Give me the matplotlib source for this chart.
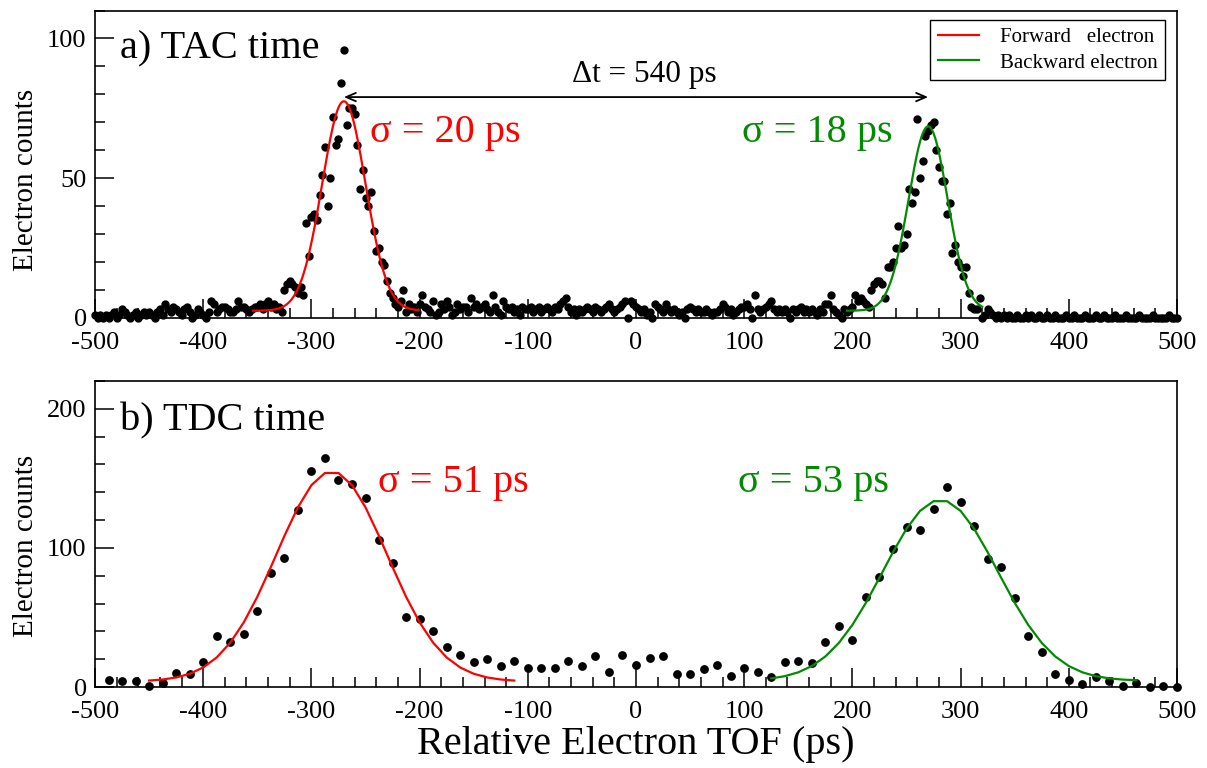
import numpy as np
import matplotlib
matplotlib.use("Agg")
import matplotlib.pyplot as plt
from matplotlib.lines import Line2D
from matplotlib.ticker import MultipleLocator

plt.rcParams['font.family'] = ['Liberation Serif', 'DejaVu Serif']
plt.rcParams['axes.unicode_minus'] = False

RED = '#ff0000'
GREEN = '#008b00'

# TAC spectrum: 2.5 ps bins from -500 to 500 ps (one row = 50 ps)
tac_time = np.arange(-500, 500.1, 2.5)
tac_counts = [
    1, 0, 1, 0, 1, 0, 1, 2, 0, 1, 3, 2, 1, 0, 1, 2, 0, 1, 2, 1,
    2, 1, 0, 2, 3, 1, 5, 3, 2, 4, 3, 2, 1, 3, 4, 2, 0, 1, 3, 2,
    1, 0, 2, 6, 5, 2, 3, 4, 4, 3, 2, 2, 3, 6, 4, 4, 3, 2, 3, 4,
    4, 5, 3, 5, 6, 4, 5, 3, 4, 2, 10, 12, 13, 12, 11, 9, 11, 8, 34, 22,
    36, 37, 35, 44, 51, 61, 40, 50, 72, 62, 64, 84, 96, 69, 75, 75, 73, 62, 46, 53,
    43, 40, 45, 31, 24, 25, 20, 19, 13, 9, 7, 5, 4, 6, 10, 2, 5, 3, 4, 2,
    5, 8, 4, 3, 2, 6, 1, 2, 5, 3, 6, 4, 1, 2, 5, 3, 4, 4, 2, 7,
    4, 5, 3, 4, 5, 3, 2, 8, 4, 2, 1, 6, 4, 3, 4, 2, 3, 1, 4, 3,
    3, 4, 2, 3, 4, 2, 3, 4, 3, 2, 4, 3, 5, 6, 7, 4, 2, 3, 1, 3,
    2, 3, 4, 3, 2, 4, 3, 2, 3, 4, 5, 3, 2, 3, 4, 5, 6, 0, 6, 5,
    4, 3, 2, 3, 1, 2, 0, 5, 4, 3, 2, 5, 3, 2, 3, 2, 1, 2, 0, 3,
    4, 3, 2, 3, 2, 2, 3, 2, 1, 2, 2, 3, 5, 4, 2, 3, 1, 2, 3, 4,
    4, 5, 3, 0, 8, 3, 2, 3, 4, 5, 6, 3, 2, 3, 2, 3, 2, 0, 3, 2,
    3, 4, 2, 3, 2, 3, 2, 1, 3, 2, 5, 5, 8, 3, 2, 1, 0, 3, 2, 3,
    4, 8, 6, 7, 6, 5, 4, 10, 12, 13, 13, 12, 7, 18, 18, 20, 25, 33, 25, 26,
    30, 46, 41, 45, 71, 50, 56, 65, 67, 69, 70, 60, 54, 49, 49, 37, 41, 23, 26, 20,
    18, 15, 18, 9, 4, 3, 3, 7, 0, 1, 3, 2, 1, 0, 1, 0, 1, 0, 1, 0,
    0, 1, 0, 0, 1, 0, 1, 0, 0, 1, 0, 0, 1, 0, 0, 1, 0, 0, 0, 1,
    0, 0, 1, 0, 0, 0, 1, 0, 0, 0, 1, 0, 0, 1, 0, 0, 0, 1, 0, 0,
    0, 1, 0, 0, 0, 0, 1, 0, 0, 0, 0, 1, 0, 0, 0, 0, 0, 1, 0, 0,
    0,
]

# TDC spectrum: 12.5 ps bins
tdc_time = np.arange(-487.5, 500.1, 12.5)
tdc_counts = [
    5, 4, 4, 1, 3, 10, 9, 18, 37, 32, 38, 55, 82, 93, 127, 155, 165, 149, 146, 136,
    106, 89, 50, 49, 40, 29, 23, 18, 20, 15, 19, 14, 14, 14, 19, 15, 22, 11, 23, 16,
    21, 22, 9, 9, 13, 16, 8, 14, 11, 7, 18, 19, 17, 32, 44, 34, 65, 79, 99, 115,
    113, 128, 144, 133, 116, 92, 86, 64, 37, 25, 9, 5, 2, 7, 4, 1, 3, 0, 1, 0,
]

# Gaussian fit parameters: amplitude, mean, sigma, offset, fit range
tac_fwd_fit = (75.0, -270.0, 20.0, 2.5, (-354, -201))
tac_bwd_fit = (66.0, 270.0, 18.0, 2.5, (195, 320))
tdc_fwd_fit = (151.0, -281.25, 51.0, 4.0, (-450, -112.5))
tdc_bwd_fit = (130.0, 281.25, 53.0, 4.5, (125, 462.5))


def gauss(x, amp, mu, sig, off):
    return off + amp * np.exp(-(x - mu) ** 2 / (2 * sig ** 2))


def style_axes(ax, ymax, ymajor, yminor, label_y):
    ax.set_xlim(-500, 500)
    ax.set_ylim(0, ymax)
    ax.xaxis.set_major_locator(MultipleLocator(100))
    ax.xaxis.set_minor_locator(MultipleLocator(20))
    ax.yaxis.set_major_locator(MultipleLocator(ymajor))
    ax.yaxis.set_minor_locator(MultipleLocator(yminor))
    ax.tick_params(which='major', direction='in', length=14, width=1.1,
                   top=False, right=False, labelsize=19)
    ax.tick_params(axis='x', which='major', pad=10)
    ax.tick_params(axis='y', which='major', pad=6)
    ax.tick_params(which='minor', direction='in', length=7, width=1.1,
                   top=False, right=False)
    for sp in ax.spines.values():
        sp.set_linewidth(1.2)
    ax.set_ylabel('Electron counts', fontsize=21)
    ax.yaxis.set_label_coords(-0.052, label_y)


fig = plt.figure(figsize=(12.07, 7.68), dpi=100)
ax1 = fig.add_axes([95 / 1207, 1 - 317.7 / 768, 1082 / 1207, 307.2 / 768])
ax2 = fig.add_axes([95 / 1207, 1 - 687 / 768, 1082 / 1207, 306 / 768])

# --- a) TAC time ---
style_axes(ax1, 110, 50, 10, 0.45)
ax1.plot(tac_time, tac_counts, 'o', color='black', markersize=5, clip_on=False, zorder=3)
for fit, col in ((tac_fwd_fit, RED), (tac_bwd_fit, GREEN)):
    amp, mu, sig, off, (lo, hi) = fit
    xs = np.linspace(lo, hi, 300)
    ax1.plot(xs, gauss(xs, amp, mu, sig, off), color=col, lw=1.6, zorder=4)

ax1.text(-477, 93, 'a) TAC time', fontsize=29, va='baseline')
ax1.text(-246, 63, 'σ = 20 ps', fontsize=29, color=RED, va='baseline')
ax1.text(98, 63, 'σ = 18 ps', fontsize=29, color=GREEN, va='baseline')
ax1.annotate('', xy=(tac_fwd_fit[1], 79), xytext=(tac_bwd_fit[1], 79),
             arrowprops=dict(arrowstyle='<->,head_length=0.7,head_width=0.3',
                             color='black', lw=1.3, shrinkA=0, shrinkB=0))
ax1.text(-59, 84.5, 'Δt = 540 ps', fontsize=22.5, va='baseline')

handles = [Line2D([], [], color=RED, lw=1.6), Line2D([], [], color=GREEN, lw=1.6)]
leg = ax1.legend(handles, ['Forward   electron', 'Backward electron'],
                 loc='upper right', bbox_to_anchor=(0.989, 0.969), borderaxespad=0,
                 fontsize=15, fancybox=False, framealpha=1, edgecolor='black',
                 handlelength=2.0, handletextpad=1.0, labelspacing=0.3,
                 borderpad=0.35)
leg.get_frame().set_linewidth(1.0)

# --- b) TDC time ---
style_axes(ax2, 220, 100, 20, 0.46)
ax2.plot(tdc_time, tdc_counts, 'o', color='black', markersize=5.3, clip_on=False, zorder=3)
for fit, col in ((tdc_fwd_fit, RED), (tdc_bwd_fit, GREEN)):
    amp, mu, sig, off, (lo, hi) = fit
    xs = np.arange(lo, hi + 0.1, 12.5)
    ax2.plot(xs, gauss(xs, amp, mu, sig, off), color=col, lw=1.6, zorder=4)

ax2.text(-477, 184.5, 'b) TDC time', fontsize=29, va='baseline')
ax2.text(-238, 140, 'σ = 51 ps', fontsize=29, color=RED, va='baseline')
ax2.text(94, 140, 'σ = 53 ps', fontsize=29, color=GREEN, va='baseline')
ax2.set_xlabel('Relative Electron TOF (ps)', fontsize=29, labelpad=2)

fig.savefig('out.png', dpi=100, facecolor='white')
